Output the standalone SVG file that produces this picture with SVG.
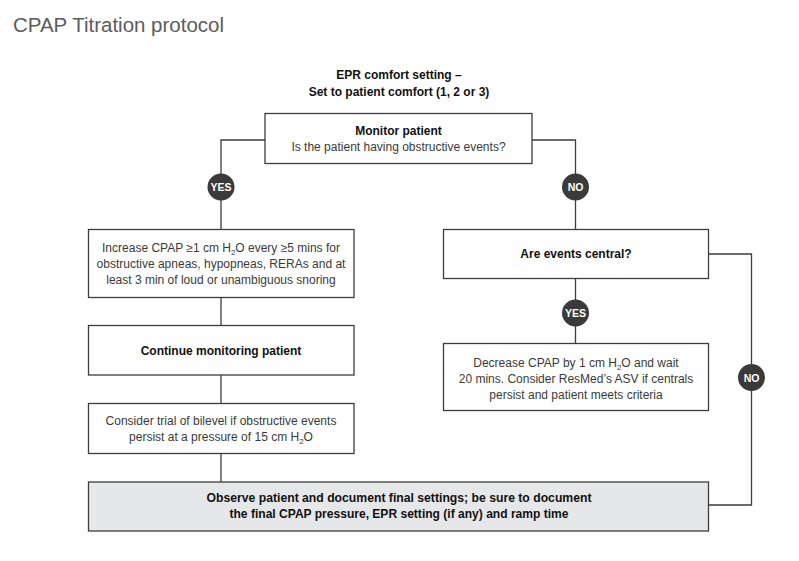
<svg xmlns="http://www.w3.org/2000/svg" width="799" height="561" viewBox="0 0 799 561">
<style>
.box{fill:#fff;stroke:#3d3d3d;stroke-width:1.3}
.grey{fill:#e6e7e8}
.ln{fill:none;stroke:#3d3d3d;stroke-width:1.3}
.t{font-family:"Liberation Sans",Arial,sans-serif;font-size:12px;fill:#3a3a3a;text-anchor:middle}
.b{font-weight:bold;fill:#111}
.c{fill:#3a3a3a}
.ct{font-family:"Liberation Sans",Arial,sans-serif;font-size:10.5px;font-weight:bold;fill:#fff;text-anchor:middle}
.title{font-family:"Liberation Sans",Arial,sans-serif;font-size:20.5px;fill:#5c5c5c}
</style>
<rect width="799" height="561" fill="#fff"/>
<text class="title" x="13" y="32" textLength="211" lengthAdjust="spacingAndGlyphs">CPAP Titration protocol</text>
<text class="t b" x="399" y="79">EPR comfort setting –</text>
<text class="t b" x="399" y="96">Set to patient comfort (1, 2 or 3)</text>
<g id="connectors">
<path class="ln" d="M265 140H221V229"/>
<path class="ln" d="M532 140H575.5V229"/>
<path class="ln" d="M221 297V325"/>
<path class="ln" d="M221 375V403"/>
<path class="ln" d="M221 453V482"/>
<path class="ln" d="M575.5 278V343"/>
<path class="ln" d="M708 254H751.5V505H708"/>
</g>
<g id="monitor">
<rect class="box" x="265" y="113.5" width="267" height="50"/>
<text class="t b" x="398.5" y="135">Monitor patient</text>
<text class="t" x="398.5" y="151">Is the patient having obstructive events?</text>
</g>
<g id="yes1">
<circle class="c" cx="221" cy="187" r="13.5"/>
<text class="ct" x="221" y="191">YES</text>
</g>
<g id="no1">
<circle class="c" cx="575.5" cy="187" r="13.5"/>
<text class="ct" x="575.5" y="191">NO</text>
</g>
<g id="increase">
<rect class="box" x="88.5" y="229.5" width="265.5" height="68"/>
<text class="t" x="221" y="252">Increase CPAP ≥1 cm H<tspan font-size="8" dy="3">2</tspan><tspan dy="-3">O every ≥5 mins for</tspan></text>
<text class="t" x="221" y="268">obstructive apneas, hypopneas, RERAs and at</text>
<text class="t" x="221" y="284">least 3 min of loud or unambiguous snoring</text>
</g>
<g id="central">
<rect class="box" x="443.5" y="229.5" width="265" height="49"/>
<text class="t b" x="576" y="258">Are events central?</text>
</g>
<g id="yes2">
<circle class="c" cx="575.5" cy="313" r="13.5"/>
<text class="ct" x="575.5" y="317">YES</text>
</g>
<g id="continue">
<rect class="box" x="88.5" y="325.5" width="265.5" height="49.5"/>
<text class="t b" x="221" y="355">Continue monitoring patient</text>
</g>
<g id="decrease">
<rect class="box" x="443.5" y="343.5" width="265" height="67"/>
<text class="t" x="576" y="367">Decrease CPAP by 1 cm H<tspan font-size="8" dy="3">2</tspan><tspan dy="-3">O and wait</tspan></text>
<text class="t" x="576" y="383">20 mins. Consider ResMed’s ASV if centrals</text>
<text class="t" x="576" y="399">persist and patient meets criteria</text>
</g>
<g id="no2">
<circle class="c" cx="751.5" cy="377.5" r="13.5"/>
<text class="ct" x="751.5" y="381.5">NO</text>
</g>
<g id="bilevel">
<rect class="box" x="88.5" y="403.5" width="265.5" height="50"/>
<text class="t" x="221" y="425">Consider trial of bilevel if obstructive events</text>
<text class="t" x="221" y="441">persist at a pressure of 15 cm H<tspan font-size="8" dy="3">2</tspan><tspan dy="-3">O</tspan></text>
</g>
<g id="observe">
<rect class="box grey" x="88.5" y="482" width="620" height="49"/>
<text class="t b" x="399" y="502" textLength="385" lengthAdjust="spacingAndGlyphs">Observe patient and document final settings; be sure to document</text>
<text class="t b" x="399" y="518" textLength="339" lengthAdjust="spacingAndGlyphs">the final CPAP pressure, EPR setting (if any) and ramp time</text>
</g>
</svg>
